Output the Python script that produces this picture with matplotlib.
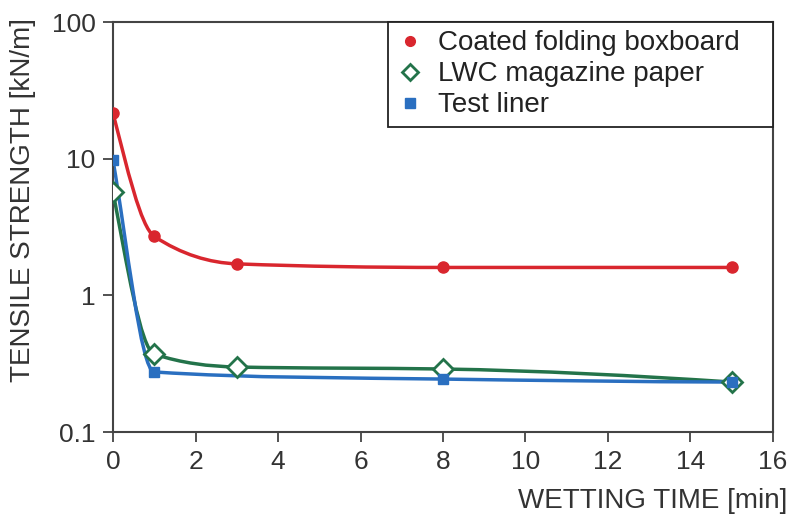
import numpy as np
import matplotlib
matplotlib.use('Agg')
import matplotlib.pyplot as plt
from matplotlib.path import Path
from matplotlib.patches import PathPatch
from matplotlib.lines import Line2D

plt.rcParams['font.family'] = ['Liberation Sans', 'DejaVu Sans']

# wetting time [min] and tensile strength [kN/m]
t_board = [0, 1, 3, 8, 15]
s_board = [21.5, 2.7, 1.7, 1.6, 1.6]

t_lwc = [0, 1, 3, 8, 15]
s_lwc = [5.7, 0.372, 0.299, 0.289, 0.232]

t_liner = [0, 1, 8, 15]
s_liner = [9.7, 0.275, 0.244, 0.232]

names = ['Coated folding boxboard', 'LWC magazine paper', 'Test liner']
red = '#d9262e'
green = '#23734a'
blue = '#2a6fc0'


def smooth_path(xs, ys):
    # monotone cubic (Fritsch-Carlson style) in log space, as bezier control points
    x = np.array(xs, float)
    y = np.log10(ys)
    h = np.diff(x)
    d = np.diff(y) / h
    n = len(x)
    m = np.zeros(n)
    for i in range(1, n - 1):
        if d[i - 1] * d[i] > 0:
            w1 = 2 * h[i] + h[i - 1]
            w2 = h[i] + 2 * h[i - 1]
            m[i] = (w1 + w2) / (w1 / d[i - 1] + w2 / d[i])
    if n > 2:
        m[0] = ((2 * h[0] + h[1]) * d[0] - h[0] * d[1]) / (h[0] + h[1])
        m[-1] = ((2 * h[-1] + h[-2]) * d[-1] - h[-1] * d[-2]) / (h[-1] + h[-2])
        if m[-1] * d[-1] <= 0:
            m[-1] = 0
    else:
        m[:] = d[0]
    verts = [(x[0], 10 ** y[0])]
    codes = [Path.MOVETO]
    for i in range(n - 1):
        c1 = (x[i] + h[i] / 3, 10 ** (y[i] + m[i] * h[i] / 3))
        c2 = (x[i + 1] - h[i] / 3, 10 ** (y[i + 1] - m[i + 1] * h[i] / 3))
        verts += [c1, c2, (x[i + 1], 10 ** y[i + 1])]
        codes += [Path.CURVE4] * 3
    return Path(verts, codes)


fig = plt.figure(figsize=(7.91, 5.17), dpi=100)
ax = fig.add_axes([0.1429, 0.1644, 0.8343, 0.793])
ax.set_yscale('log')
ax.set_xlim(0, 16)
ax.set_ylim(0.1, 100)

for xs, ys, c in [(t_board, s_board, red), (t_lwc, s_lwc, green), (t_liner, s_liner, blue)]:
    ax.add_patch(PathPatch(smooth_path(xs, ys), fill=False, edgecolor=c, lw=2.5,
                           transform=ax.transData, zorder=2))

ax.plot(t_board, s_board, 'o', color=red, ms=8, zorder=3)
ax.plot(t_lwc, s_lwc, 'D', mfc='white', mec=green, mew=2, ms=10, zorder=3)
ax.plot(t_liner, s_liner, 's', color=blue, ms=7.5, zorder=4)

ax.set_xticks(range(0, 17, 2))
ax.set_yticks([0.1, 1, 10, 100])
ax.set_yticklabels(['0.1', '1', '10', '100'])
ax.yaxis.set_minor_locator(matplotlib.ticker.NullLocator())
ax.tick_params(labelsize=19, colors='#333333', length=7.2, width=1.2, direction='out')
ax.tick_params(axis='x', pad=6)
ax.tick_params(axis='y', pad=5.5)
for sp in ax.spines.values():
    sp.set_color('#444444')
    sp.set_linewidth(1.5)

ax.set_xlabel('WETTING TIME [min]', fontsize=20, color='#333333', ha='right')
ax.xaxis.set_label_coords(1.022, -0.137)
ax.set_ylabel('TENSILE STRENGTH [kN/m]', fontsize=20, color='#333333')
ax.yaxis.set_label_coords(-0.117, 0.566)

handles = [Line2D([], [], ls='none', marker='o', color=red, ms=7),
           Line2D([], [], ls='none', marker='D', mfc='white', mec=green, mew=2, ms=8),
           Line2D([], [], ls='none', marker='s', color=blue, ms=6.5)]
leg = ax.legend(handles, names, loc='upper right', bbox_to_anchor=(0.4167, 0, 0.5833, 1),
                mode='expand', borderaxespad=0, fancybox=False, edgecolor='#222222',
                fontsize=20, handlelength=1.0, handletextpad=0.5, labelspacing=0.18,
                borderpad=0.3, framealpha=1)
leg.get_frame().set_linewidth(1.3)
for txt in leg.get_texts():
    txt.set_color('#222222')

fig.savefig('out.png', dpi=100)
